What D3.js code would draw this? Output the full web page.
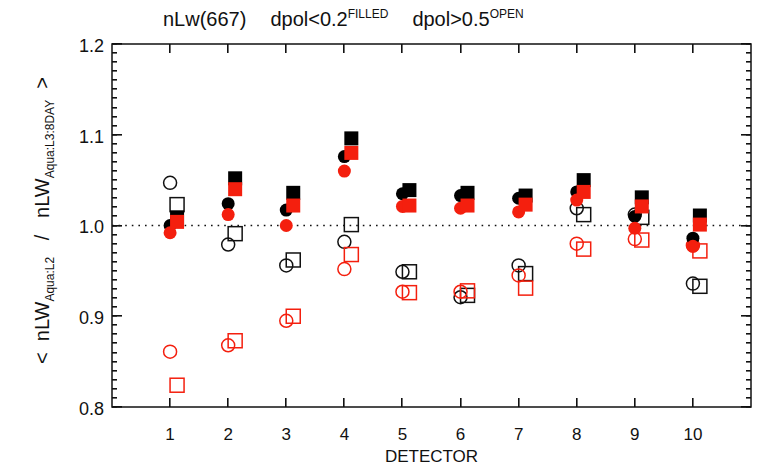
<!DOCTYPE html>
<html>
<head>
<meta charset="utf-8">
<script src="https://cdn.jsdelivr.net/npm/d3@7"></script>
<style>
  html, body { margin: 0; padding: 0; background: #fff; }
  svg text { font-family: "Liberation Sans", "DejaVu Sans", sans-serif; fill: #111; }
</style>
</head>
<body>
<div class="chart"></div>
<script>
// per-detector ratios, filled = dpol<0.2, open = dpol>0.5
const detectors = [1, 2, 3, 4, 5, 6, 7, 8, 9, 10];
const filledBlackCircle = [1.000, 1.024, 1.017, 1.076, 1.035, 1.033, 1.030, 1.037, 1.010, 0.986];
const filledBlackSquare = [1.009, 1.052, 1.036, 1.096, 1.039, 1.036, 1.033, 1.050, 1.031, 1.011];
const filledRedCircle   = [0.992, 1.012, 1.000, 1.060, 1.021, 1.019, 1.015, 1.028, 0.997, 0.977];
const filledRedSquare   = [1.004, 1.040, 1.022, 1.080, 1.022, 1.022, 1.023, 1.037, 1.021, 1.001];
const openBlackCircle   = [1.047, 0.979, 0.956, 0.982, 0.949, 0.921, 0.956, 1.019, 1.012, 0.936];
const openBlackSquare   = [1.023, 0.991, 0.962, 1.001, 0.949, 0.923, 0.947, 1.012, 1.009, 0.933];
const openRedCircle     = [0.861, 0.868, 0.895, 0.952, 0.927, 0.927, 0.945, 0.980, 0.985, 0.978];
const openRedSquare     = [0.824, 0.873, 0.900, 0.968, 0.926, 0.928, 0.931, 0.974, 0.984, 0.972];
const yTicks = [0.8, 0.9, 1.0, 1.1, 1.2];
const yMinor = d3.range(80, 121).map(d => d / 100);

const width = 757, height = 468;
const left = 112, right = 751, plotTop = 44, plotBottom = 407;
const red = "#f41f0e";
const squareShift = 0.12;

const svg = d3.select(".chart").append("svg")
  .attr("width", width)
  .attr("height", height);

const x = d3.scaleLinear().domain([0, 11]).range([left, right]);
const y = d3.scaleLinear().domain([0.8, 1.2]).range([plotBottom, plotTop]);

// frame ticks point inward on all four sides, drawn as small filled bars
const tickG = svg.append("g").attr("fill", "#111");
[[yMinor, 5], [yTicks, 10]].forEach(([vals, len]) => {
  tickG.append("g").selectAll("rect")
    .data(vals)
    .enter()
    .append("rect")
      .attr("x", left)
      .attr("y", d => Math.round(y(d)) - 1)
      .attr("width", len)
      .attr("height", 1.6);
  tickG.append("g").selectAll("rect")
    .data(vals)
    .enter()
    .append("rect")
      .attr("x", right - len)
      .attr("y", d => Math.round(y(d)) - 1)
      .attr("width", len)
      .attr("height", 1.6);
});
[[plotBottom - 9], [plotTop]].forEach(([yp]) => {
  tickG.append("g").selectAll("rect")
    .data(detectors)
    .enter()
    .append("rect")
      .attr("x", d => Math.round(x(d)) - 1)
      .attr("y", yp)
      .attr("width", 1.6)
      .attr("height", 9);
});

// plot frame
svg.append("rect")
  .attr("x", left).attr("y", plotTop)
  .attr("width", right - left).attr("height", plotBottom - plotTop)
  .attr("fill", "none").attr("stroke", "#111").attr("stroke-width", 1.5);

// tick labels
svg.selectAll("text.ylab")
  .data(yTicks)
  .enter()
  .append("text")
    .attr("class", "ylab")
    .attr("x", left - 8)
    .attr("y", d => y(d) + 3)
    .attr("text-anchor", "end")
    .attr("dominant-baseline", "middle")
    .attr("font-size", 18)
    .text(d => d.toFixed(1));

svg.selectAll("text.xlab")
  .data(detectors)
  .enter()
  .append("text")
    .attr("class", "xlab")
    .attr("x", d => x(d))
    .attr("y", 440)
    .attr("text-anchor", "middle")
    .attr("font-size", 17)
    .text(d => d);

svg.append("text")
  .attr("x", x(5.5))
  .attr("y", 462)
  .attr("text-anchor", "middle")
  .attr("font-size", 17)
  .text("DETECTOR");

// title with superscripts
const title = svg.append("text")
  .attr("x", 163)
  .attr("y", 26)
  .attr("font-size", 20);
title.append("tspan").text("nLw(667)");
title.append("tspan").attr("dx", 24).text("dpol<0.2");
title.append("tspan").attr("dy", -8).attr("font-size", 12).text("FILLED");
title.append("tspan").attr("dy", 8).attr("dx", 24).text("dpol>0.5");
title.append("tspan").attr("dy", -8).attr("font-size", 12).text("OPEN");

// rotated y label with subscripts
const ylabel = svg.append("text")
  .attr("transform", `translate(49,${y(1.0) - 5}) rotate(-90)`)
  .attr("text-anchor", "middle")
  .attr("font-size", 20)
  .style("white-space", "pre");
ylabel.append("tspan").text("<  nLW");
ylabel.append("tspan").attr("dy", 5).attr("font-size", 12).text("Aqua:L2");
ylabel.append("tspan").attr("dy", -5).text("   /   nLW");
ylabel.append("tspan").attr("dy", 5).attr("font-size", 12).text("Aqua:L3:8DAY");
ylabel.append("tspan").attr("dy", -5).text("  >");

// reference line at 1.0
svg.append("line")
  .attr("x1", left).attr("x2", right)
  .attr("y1", y(1.0)).attr("y2", y(1.0))
  .attr("stroke", "#111")
  .attr("stroke-width", 1.6)
  .attr("stroke-dasharray", "1.6,5");

const plot = svg.append("g");
const pts = vals => vals.map((v, i) => ({ d: detectors[i], v: v }));
const side = 14, rad = 6.5;

function circles(vals, color, filled) {
  plot.append("g").selectAll("circle")
    .data(pts(vals))
    .enter()
    .append("circle")
      .attr("cx", d => x(d.d))
      .attr("cy", d => y(d.v))
      .attr("r", rad)
      .attr("fill", filled ? color : "none")
      .attr("stroke", filled ? "none" : color)
      .attr("stroke-width", 1.5);
}

function squares(vals, color, filled) {
  plot.append("g").selectAll("rect")
    .data(pts(vals))
    .enter()
    .append("rect")
      .attr("x", d => x(d.d + squareShift) - side / 2)
      .attr("y", d => y(d.v) - side / 2)
      .attr("width", side)
      .attr("height", side)
      .attr("fill", filled ? color : "none")
      .attr("stroke", filled ? "none" : color)
      .attr("stroke-width", 1.5);
}

circles(openBlackCircle, "#111", false);
squares(openBlackSquare, "#111", false);
circles(openRedCircle, red, false);
squares(openRedSquare, red, false);
circles(filledBlackCircle, "#000", true);
squares(filledBlackSquare, "#000", true);
circles(filledRedCircle, red, true);
squares(filledRedSquare, red, true);
</script>
</body>
</html>
